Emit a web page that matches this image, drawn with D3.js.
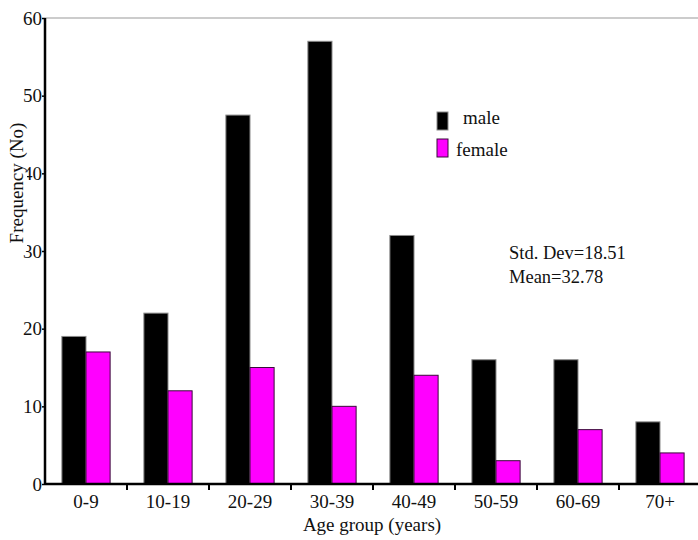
<!DOCTYPE html>
<html>
<head>
<meta charset="utf-8">
<script src="https://cdn.jsdelivr.net/npm/d3@7"></script>
<style>
html,body{margin:0;padding:0;background:#fff;}
svg{display:block;font-family:"Liberation Serif","DejaVu Serif",serif;}
</style>
</head>
<body>
<svg id="chart" width="698" height="540"></svg>
<script>
const categories = ["0-9","10-19","20-29","30-39","40-49","50-59","60-69","70+"];
const seriesNames = ["male","female"];
const maleValues = [19, 22, 47.5, 57, 32, 16, 16, 8];
const femaleValues = [17, 12, 15, 10, 14, 3, 7, 4];
const yTicks = [0,10,20,30,40,50,60];
const colors = ["#000000","#ff00ff"];
const strokes = ["#8a8a8a","#3a0a3a"];
const statsLines = ["Std. Dev=18.51","Mean=32.78"];

const svg = d3.select("#chart");
const plotLeft = 45, plotRight = 701, plotTop = 18, plotBottom = 484;

const x = d3.scaleBand().domain(categories).range([plotLeft, plotRight]).paddingInner(0).paddingOuter(0);
const x1 = d3.scaleBand().domain(seriesNames).range([0, x.bandwidth()]).paddingOuter(0.7).paddingInner(0);
const y = d3.scaleLinear().domain([0,60]).range([plotBottom, plotTop]);

// top frame line
svg.append("line").attr("x1", plotLeft).attr("x2", 698).attr("y1", y(60)).attr("y2", y(60))
  .attr("stroke","#999").attr("stroke-width",1);

const data = categories.map((c,i)=>({cat:c, vals:[maleValues[i], femaleValues[i]]}));

const g = svg.append("g");
data.forEach(d=>{
  d.vals.forEach((v,j)=>{
    g.append("rect")
      .attr("x", x(d.cat) + x1(seriesNames[j]))
      .attr("y", y(v))
      .attr("width", x1.bandwidth())
      .attr("height", y(0) - y(v))
      .attr("fill", colors[j])
      .attr("stroke", strokes[j])
      .attr("stroke-width", 1);
  });
});

// x axis
const xAxis = d3.axisBottom(x).tickSize(0).tickPadding(8);
const xg = svg.append("g").attr("transform",`translate(0,${plotBottom})`).call(xAxis);
xg.select(".domain").remove();
xg.selectAll("text").attr("font-size",19).attr("font-family","Liberation Serif").attr("fill","#111").attr("dy","0.84em");
svg.append("line").attr("x1",plotLeft).attr("x2",698).attr("y1",plotBottom).attr("y2",plotBottom)
  .attr("stroke","#000").attr("stroke-width",2.5);
categories.slice(1).forEach(c=>{
  svg.append("line").attr("x1",x(c)).attr("x2",x(c)).attr("y1",plotBottom).attr("y2",plotBottom+6)
    .attr("stroke","#000").attr("stroke-width",2);
});

// y axis
const yAxis = d3.axisLeft(y).tickValues(yTicks).tickSize(3).tickPadding(0);
const yg = svg.append("g").attr("transform",`translate(${plotLeft},0)`).call(yAxis);
yg.select(".domain").remove();
yg.selectAll("text").attr("font-size",19).attr("font-family","Liberation Serif").attr("fill","#111");
yg.selectAll(".tick line").attr("stroke","#000").attr("stroke-width",1.5);

// y axis title with white background (overlaps tick labels as in source)
const titleG = svg.append("g").attr("transform","translate(23,183) rotate(-90)");
titleG.append("rect").attr("x",-67).attr("y",-16).attr("width",134).attr("height",20).attr("fill","#fff");
titleG.append("text").attr("text-anchor","middle").attr("font-size",19).attr("fill","#111")
  .text("Frequency (No)");

svg.append("line").attr("x1",plotLeft).attr("x2",plotLeft).attr("y1",plotTop).attr("y2",plotBottom+1)
  .attr("stroke","#000").attr("stroke-width",2.5);

// x axis title
svg.append("text").attr("x",(plotLeft+plotRight)/2 - 1).attr("y",531).attr("text-anchor","middle")
  .attr("font-size",19).attr("fill","#111").text("Age group (years)");

// legend
const legend = svg.append("g");
const legendRows = [{y:112, tx:463, ty:124},{y:139, tx:456, ty:156}];
seriesNames.forEach((s,i)=>{
  legend.append("rect").attr("x",437).attr("y",legendRows[i].y).attr("width",11).attr("height",18)
    .attr("fill",colors[i]).attr("stroke",strokes[i]).attr("stroke-width",1);
  legend.append("text").attr("x",legendRows[i].tx).attr("y",legendRows[i].ty)
    .attr("font-size",19).attr("fill","#111").text(s);
});

// stats
statsLines.forEach((t,i)=>{
  svg.append("text").attr("x",509).attr("y",259 + i*24).attr("font-size",18.5).attr("fill","#111").text(t);
});
</script>
</body>
</html>
